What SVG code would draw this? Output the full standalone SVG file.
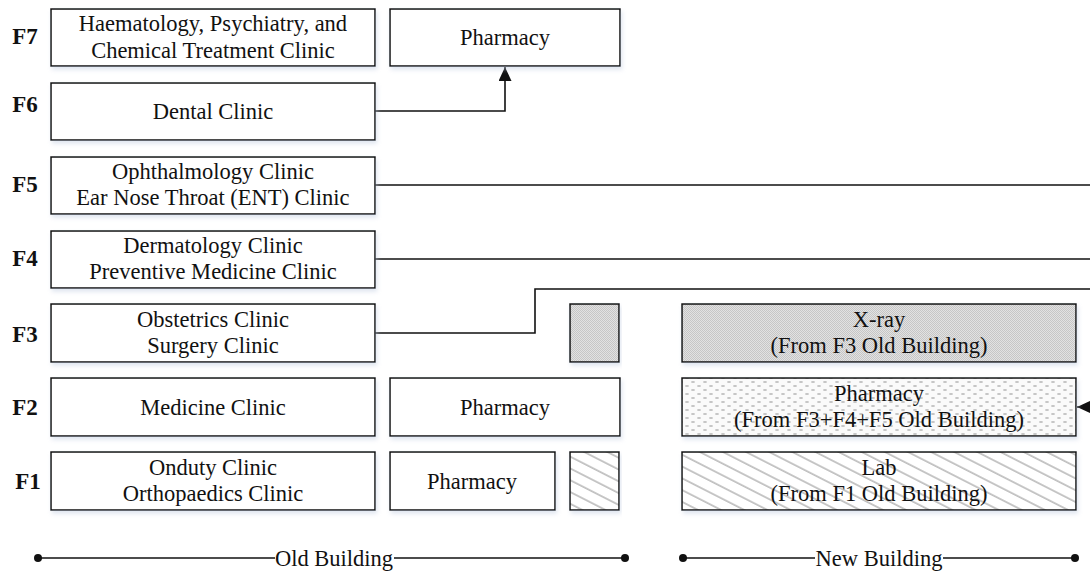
<svg xmlns="http://www.w3.org/2000/svg" width="1090" height="571" viewBox="0 0 1090 571">
  <style>
    .box { fill: #ffffff; stroke: #111; stroke-width: 1.5; filter: url(#soft); }
    .t { font-family: "Liberation Serif", "Times New Roman", serif; font-size: 22.5px; fill: #111; text-anchor: middle; }
    .fl { font-family: "Liberation Serif", "Times New Roman", serif; font-size: 23px; font-weight: bold; fill: #111; text-anchor: middle; }
    .wire { fill: none; stroke: #111; stroke-width: 1.6; }
  </style>
  <defs>
    <filter id="soft" x="-5%" y="-20%" width="110%" height="150%">
      <feDropShadow dx="1.5" dy="3" stdDeviation="2" flood-color="#b9c7de" flood-opacity="0.45"/>
    </filter>
    <!-- fine grey checker: relocated X-ray -->
    <pattern id="checker" width="2" height="2" patternUnits="userSpaceOnUse">
      <rect width="2" height="2" fill="#e2e2e2"/>
      <rect width="1" height="1" fill="#c6c6c6"/>
      <rect x="1" y="1" width="1" height="1" fill="#c6c6c6"/>
    </pattern>
    <!-- sparse dotted fill: relocated pharmacy -->
    <pattern id="dots" width="12" height="8" patternUnits="userSpaceOnUse">
      <rect width="12" height="8" fill="#fafafa"/>
      <ellipse cx="3" cy="2" rx="2" ry="1" fill="#c2c2c2"/>
      <ellipse cx="9" cy="6" rx="2" ry="1" fill="#c2c2c2"/>
    </pattern>
    <!-- diagonal hatching: lab -->
    <pattern id="hatch" width="12" height="10.5" patternUnits="userSpaceOnUse" patternTransform="rotate(27)">
      <rect width="12" height="10.5" fill="#ffffff"/>
      <line x1="0" y1="1" x2="12" y2="1" stroke="#9a9a9a" stroke-width="1.1"/>
    </pattern>
    <marker id="arrow" markerWidth="14" markerHeight="13" refX="14" refY="6.5" orient="auto" markerUnits="userSpaceOnUse">
      <path d="M0,0 L14,6.5 L0,13 Z" fill="#111"/>
    </marker>
  </defs>

  <!-- floor labels -->
  <g id="floors">
    <text class="fl" x="25" y="44">F7</text>
    <text class="fl" x="25" y="112">F6</text>
    <text class="fl" x="25" y="192">F5</text>
    <text class="fl" x="25" y="266">F4</text>
    <text class="fl" x="25" y="342">F3</text>
    <text class="fl" x="25" y="415">F2</text>
    <text class="fl" x="28" y="489">F1</text>
  </g>

  <!-- connectors -->
  <g id="connectors">
    <path class="wire" d="M375,111 H505 V67" marker-end="url(#arrow)"/>
    <path class="wire" d="M375,185 H1090"/>
    <path class="wire" d="M375,259 H1090"/>
    <path class="wire" d="M375,333 H535 V289 H1090"/>
    <path class="wire" d="M1092,407 H1077" marker-end="url(#arrow)"/>
  </g>

  <!-- old building -->
  <g id="f7-clinic">
    <rect class="box" x="51" y="9" width="324" height="57"/>
    <text class="t" x="213" y="31">Haematology, Psychiatry, and</text>
    <text class="t" x="213" y="58">Chemical Treatment Clinic</text>
  </g>
  <g id="f7-pharmacy">
    <rect class="box" x="390" y="9" width="230" height="57"/>
    <text class="t" x="505" y="45">Pharmacy</text>
  </g>
  <g id="f6-dental">
    <rect class="box" x="51" y="83" width="324" height="57"/>
    <text class="t" x="213" y="119">Dental Clinic</text>
  </g>
  <g id="f5-clinic">
    <rect class="box" x="51" y="157" width="324" height="57"/>
    <text class="t" x="213" y="179">Ophthalmology Clinic</text>
    <text class="t" x="213" y="205">Ear Nose Throat (ENT) Clinic</text>
  </g>
  <g id="f4-clinic">
    <rect class="box" x="51" y="231" width="324" height="57"/>
    <text class="t" x="213" y="253">Dermatology Clinic</text>
    <text class="t" x="213" y="279">Preventive Medicine Clinic</text>
  </g>
  <g id="f3-clinic">
    <rect class="box" x="51" y="304" width="324" height="58"/>
    <text class="t" x="213" y="327">Obstetrics Clinic</text>
    <text class="t" x="213" y="353">Surgery Clinic</text>
  </g>
  <g id="f3-xray-old">
    <rect class="box" x="570" y="304" width="49" height="58" style="fill:url(#checker)"/>
  </g>
  <g id="f2-clinic">
    <rect class="box" x="51" y="378" width="324" height="58"/>
    <text class="t" x="213" y="415">Medicine Clinic</text>
  </g>
  <g id="f2-pharmacy">
    <rect class="box" x="390" y="378" width="230" height="58"/>
    <text class="t" x="505" y="415">Pharmacy</text>
  </g>
  <g id="f1-clinic">
    <rect class="box" x="51" y="452" width="324" height="58"/>
    <text class="t" x="213" y="475">Onduty Clinic</text>
    <text class="t" x="213" y="501">Orthopaedics Clinic</text>
  </g>
  <g id="f1-pharmacy">
    <rect class="box" x="390" y="452" width="165" height="58"/>
    <text class="t" x="472" y="489">Pharmacy</text>
  </g>
  <g id="f1-lab-old">
    <rect class="box" x="570" y="452" width="49" height="58" style="fill:url(#hatch)"/>
  </g>

  <!-- new building -->
  <g id="new-xray">
    <rect class="box" x="682" y="304" width="394" height="58" style="fill:url(#checker)"/>
    <text class="t" x="879" y="327">X-ray</text>
    <text class="t" x="879" y="353">(From F3 Old Building)</text>
  </g>
  <g id="new-pharmacy">
    <rect class="box" x="682" y="378" width="394" height="58" style="fill:url(#dots)"/>
    <text class="t" x="879" y="401">Pharmacy</text>
    <text class="t" x="879" y="427">(From F3+F4+F5 Old Building)</text>
  </g>
  <g id="new-lab">
    <rect class="box" x="682" y="452" width="394" height="58" style="fill:url(#hatch)"/>
    <text class="t" x="879" y="475">Lab</text>
    <text class="t" x="879" y="501">(From F1 Old Building)</text>
  </g>

  <!-- building spans -->
  <g id="old-building">
    <line class="wire" x1="38" y1="558" x2="275" y2="558"/>
    <line class="wire" x1="394" y1="558" x2="625" y2="558"/>
    <circle cx="38" cy="558" r="4" fill="#111"/>
    <circle cx="625" cy="558" r="4" fill="#111"/>
    <text class="t" x="334" y="566">Old Building</text>
  </g>
  <g id="new-building">
    <line class="wire" x1="683" y1="558" x2="815" y2="558"/>
    <line class="wire" x1="943" y1="558" x2="1075" y2="558"/>
    <circle cx="683" cy="558" r="4" fill="#111"/>
    <circle cx="1075" cy="558" r="4" fill="#111"/>
    <text class="t" x="879" y="566">New Building</text>
  </g>
</svg>
